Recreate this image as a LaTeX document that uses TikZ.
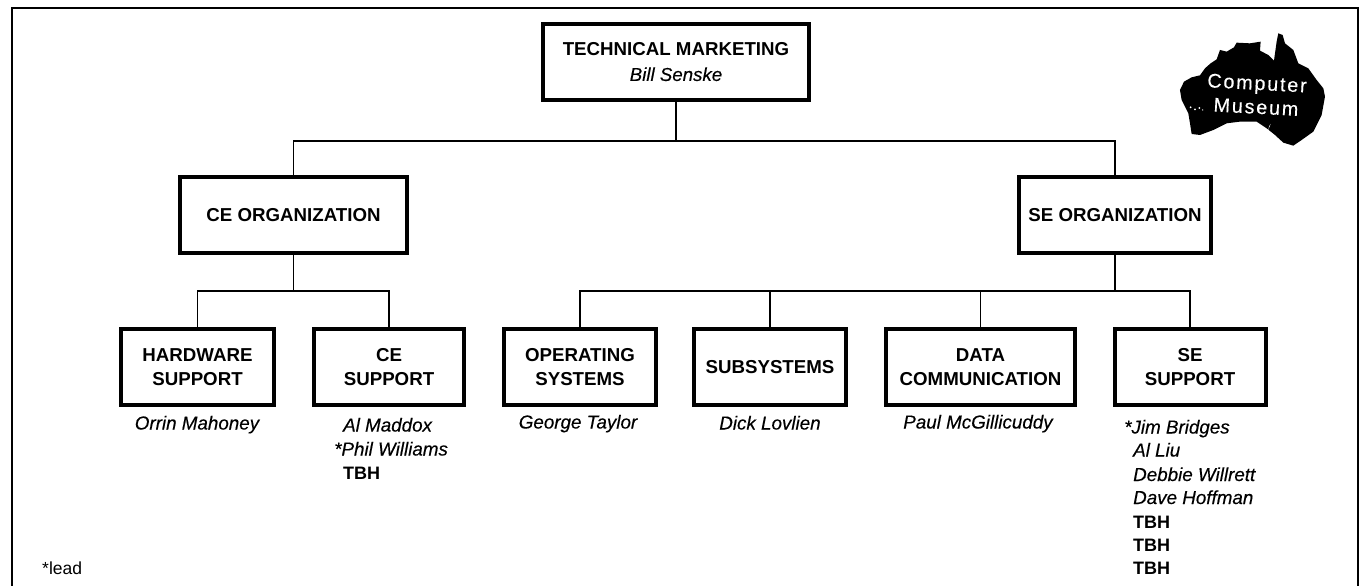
\documentclass[tikz,border=0pt]{standalone}
\usepackage{fontspec}
\setmainfont{Liberation Sans}
\newfontfamily\heavyital[ItalicFont={Liberation Sans Italic},ItalicFeatures={FakeBold=0.3}]{Liberation Sans}
\newfontfamily\logofont[LetterSpace=9,FakeBold=0.2]{Liberation Sans}
\begin{document}
\begin{tikzpicture}[x=1pt,y=-1pt,
  orgbox/.style={draw=black,line width=4pt,outer sep=0pt,inner sep=0pt,align=center,fill=white,
    font=\fontsize{18.7}{24}\selectfont\bfseries},
  conn/.style={draw=black,line width=1.5pt},
  framel/.style={draw=black,line width=1.6pt},
  who/.style={inner sep=0pt,font=\fontsize{18.8}{24}\selectfont\heavyital\itshape},
  tbh/.style={inner sep=0pt,font=\fontsize{18}{24}\selectfont\bfseries},
  logotext/.style={inner sep=0pt,text=white,font=\fontsize{19.8}{24}\selectfont\logofont,rotate=-3}]
\useasboundingbox (0,0) rectangle (1360,586);
% frame
\coordinate (fa) at (12,586);
\coordinate (fb) at (12,8);
\coordinate (fc) at (1358,8);
\coordinate (fd) at (1358,586);
\draw[framel] (fa) -- (fb) -- (fc) -- (fd);
% boxes
\node[orgbox,minimum width=266pt,minimum height=76pt] (top) at (676,62) {TECHNICAL MARKETING\\[1pt]{\mdseries\heavyital\itshape Bill Senske}};
\node[orgbox,minimum width=227pt,minimum height=76pt] (ce) at (293.5,215) {CE ORGANIZATION};
\node[orgbox,minimum width=192pt,minimum height=76pt] (se) at (1115,215) {SE ORGANIZATION};
\node[orgbox,minimum width=153pt,minimum height=76pt] (hw) at (197.5,367) {HARDWARE\\SUPPORT};
\node[orgbox,minimum width=150pt,minimum height=76pt] (ces) at (389,367) {CE\\SUPPORT};
\node[orgbox,minimum width=152pt,minimum height=76pt] (os) at (580,367) {OPERATING\\SYSTEMS};
\node[orgbox,minimum width=152pt,minimum height=76pt] (sub) at (770,367) {SUBSYSTEMS};
\node[orgbox,minimum width=189pt,minimum height=76pt] (dat) at (980.5,367) {DATA\\COMMUNICATION};
\node[orgbox,minimum width=151pt,minimum height=76pt] (ses) at (1190,367) {SE\\SUPPORT};
% connectors
\coordinate (busT) at (675,141);
\coordinate (busC) at (293,291);
\coordinate (busS) at (1114,291);
\draw[conn] (top.south) -- (top.south |- busT);
\draw[conn] (ce.north) |- (busT) -| (se.north);
\draw[conn] (ce.south) -- (ce.south |- busC);
\draw[conn] (hw.north) |- (busC) -| (ces.north);
\draw[conn] (se.south) -- (se.south |- busS);
\draw[conn] (os.north) |- (busS) -| (ses.north);
\draw[conn] (sub.north) -- (sub.north |- busS);
\draw[conn] (dat.north) -- (dat.north |- busS);
% names
\node[who,anchor=base] (n1) at (197,429.5) {Orrin Mahoney};
\node[who,anchor=base west] (n2) at (343,431.5) {Al Maddox};
\node[who,anchor=base west] (n3) at (334,455.5) {*Phil Williams};
\node[tbh,anchor=base west] (n4) at (343,479.5) {TBH};
\node[who,anchor=base] (n5) at (578,428.5) {George Taylor};
\node[who,anchor=base] (n6) at (770,429.5) {Dick Lovlien};
\node[who,anchor=base] (n7) at (978,428.5) {Paul McGillicuddy};
\node[who,anchor=base west] (s1) at (1124,433.5) {*Jim Bridges};
\node[who,anchor=base west] (s2) at (1133,456.5) {Al Liu};
\node[who,anchor=base west] (s3) at (1133,481) {Debbie Willrett};
\node[who,anchor=base west] (s4) at (1133,504) {Dave Hoffman};
\node[tbh,anchor=base west] (s5) at (1133,528) {TBH};
\node[tbh,anchor=base west] (s6) at (1133,551) {TBH};
\node[tbh,anchor=base west] (s7) at (1133,574) {TBH};
\node[inner sep=0pt,anchor=base west,font=\fontsize{17.5}{20}\selectfont] (lead) at (42,574) {*lead};
% logo
\begin{scope}[shift={(1000,0)},x=0.3333pt,y=-0.3333pt]
\fill[black]
 (540,270) -- (552,245) -- (575,232) -- (600,226) -- (615,205) -- (632,190) -- (650,178) -- (660,150) -- (680,155) -- (702,142) -- (710,128)
 -- (750,130) -- (782,125) -- (780,152) -- (805,165) -- (822,182) -- (830,125) -- (835,100) -- (848,105)
 -- (855,130) -- (880,150) -- (895,190) -- (925,205) -- (950,240) -- (970,265) -- (975,290) -- (965,345) -- (940,395)
 -- (905,420) -- (880,437) -- (850,428) -- (825,405) -- (800,385) -- (770,365) -- (720,365) -- (680,370)
 -- (640,390) -- (600,405) -- (575,402) -- (570,370) -- (565,340) -- (545,300) -- cycle;
\fill[white] (572,322) circle (3) (585,328) circle (3) (598,324) circle (3) (608,330) circle (2);
\fill[white] (808,378) -- (812,372) -- (804,392) -- cycle;
\end{scope}
\node[logotext] (l1) at (1257,85) {Computer};
\node[logotext] (l2) at (1256,107) {Museum};
\end{tikzpicture}
\end{document}
